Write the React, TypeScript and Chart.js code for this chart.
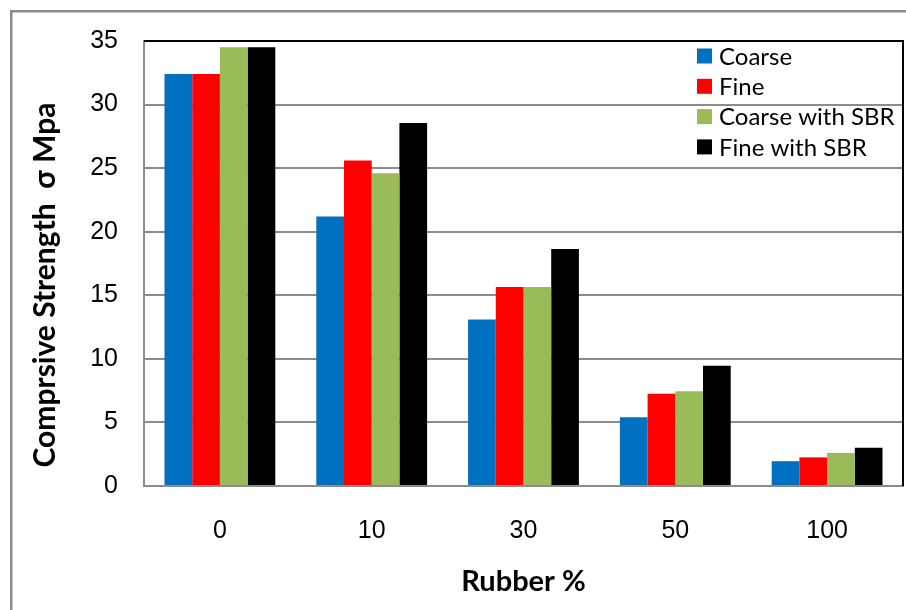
import React, { useEffect, useRef } from "react";
import { Chart, registerables } from "chart.js";

Chart.register(...registerables);

const categories = ["0", "10", "30", "50", "100"];
const seriesNames = ["Coarse", "Fine", "Coarse with SBR", "Fine with SBR"];
const seriesColors = ["#0070C0", "#FF0000", "#9BBB59", "#000000"];
const coarse = [32.4, 21.2, 13.1, 5.4, 1.95];
const fine = [32.4, 25.6, 15.65, 7.25, 2.25];
const coarseSBR = [34.5, 24.6, 15.65, 7.45, 2.6];
const fineSBR = [34.5, 28.55, 18.65, 9.45, 3.0];
const yTicks = [0, 5, 10, 15, 20, 25, 30, 35];
const xTitle = "Rubber %";
const yTitle = "Comprsive Strength  σ Mpa";

const decor = {
  id: "decor",
  beforeDraw(chart: any) {
    const ctx = chart.ctx;
    ctx.save();
    ctx.fillStyle = "#ffffff";
    ctx.fillRect(0, 0, chart.width, chart.height);
    ctx.strokeStyle = "#8c8c8c";
    ctx.lineWidth = 2.5;
    ctx.strokeRect(11.25, 11.25, 1200, 1200);
    ctx.restore();
  },
  afterDraw(chart: any) {
    const ctx = chart.ctx;
    const { left, top, right, bottom } = chart.chartArea;
    ctx.save();
    ctx.strokeStyle = "#000000";
    ctx.lineWidth = 2;
    ctx.beginPath();
    ctx.moveTo(left, top);
    ctx.lineTo(right, top);
    ctx.lineTo(right, bottom);
    ctx.stroke();

    ctx.save();
    ctx.translate(45, 285);
    ctx.rotate(-Math.PI / 2);
    ctx.fillStyle = "#000";
    ctx.font = "bold 30px Lato";
    ctx.textAlign = "center";
    ctx.textBaseline = "middle";
    ctx.fillText(yTitle, 0, 0);
    ctx.restore();

    const ds = chart.data.datasets;
    const boxX = right - 206;
    ctx.font = "24px Lato";
    ctx.textAlign = "left";
    ctx.textBaseline = "middle";
    ds.forEach((d: any, i: number) => {
      const cy = top + 15 + i * 30.3;
      ctx.fillStyle = d.backgroundColor;
      ctx.fillRect(boxX, cy - 7.5, 15, 15);
      ctx.fillStyle = "#000";
      ctx.fillText(d.label, boxX + 22, cy + 1);
    });
    ctx.restore();
  },
};

export default function App() {
  const ref = useRef<HTMLCanvasElement | null>(null);
  useEffect(() => {
    if (!ref.current) return;
    const values = [coarse, fine, coarseSBR, fineSBR];
    const chart = new Chart(ref.current, {
      type: "bar",
      data: {
        labels: categories,
        datasets: seriesNames.map((name, i) => ({
          label: name,
          data: values[i],
          backgroundColor: seriesColors[i],
          borderWidth: 0,
          barPercentage: 1,
          categoryPercentage: 0.73,
        })),
      },
      options: {
        animation: false,
        responsive: false,
        devicePixelRatio: 1,
        layout: { padding: { top: 41, right: 3, left: 0, bottom: 0 } },
        plugins: {
          legend: { display: false },
          tooltip: { enabled: false },
          title: { display: false },
        },
        scales: {
          x: {
            grid: { display: false },
            border: { display: true, color: "#8c8c8c", width: 2 },
            ticks: {
              color: "#000",
              font: { family: "Liberation Sans", size: 25 },
              padding: 22,
            },
            title: {
              display: true,
              text: xTitle,
              color: "#000",
              font: { family: "Lato", size: 29, weight: "bold" },
              padding: { top: 0, bottom: 11 },
            },
            afterFit(scale: any) {
              scale.height = 124;
              scale.paddingLeft = 0;
              scale.paddingRight = 0;
            },
          },
          y: {
            min: 0,
            max: 35,
            afterBuildTicks(scale: any) {
              scale.ticks = yTicks.map((v) => ({ value: v }));
            },
            grid: {
              color: (c: any) => (c.tick && c.tick.value === 35 ? "rgba(0,0,0,0)" : "#8c8c8c"),
              lineWidth: 2,
              drawTicks: false,
            },
            border: { display: true, color: "#8c8c8c", width: 2 },
            ticks: {
              color: "#000",
              font: { family: "Liberation Sans", size: 25 },
              padding: 26,
            },
            afterFit(scale: any) {
              scale.width = 144;
              scale.paddingTop = 0;
              scale.paddingBottom = 0;
            },
          },
        },
      },
      plugins: [decor],
    });
    return () => chart.destroy();
  }, []);
  return (
    <div style={{ position: "absolute", left: 0, top: 0, width: 906, height: 610 }}>
      <canvas ref={ref} width={906} height={610} style={{ width: 906, height: 610, display: "block" }} />
    </div>
  );
}
